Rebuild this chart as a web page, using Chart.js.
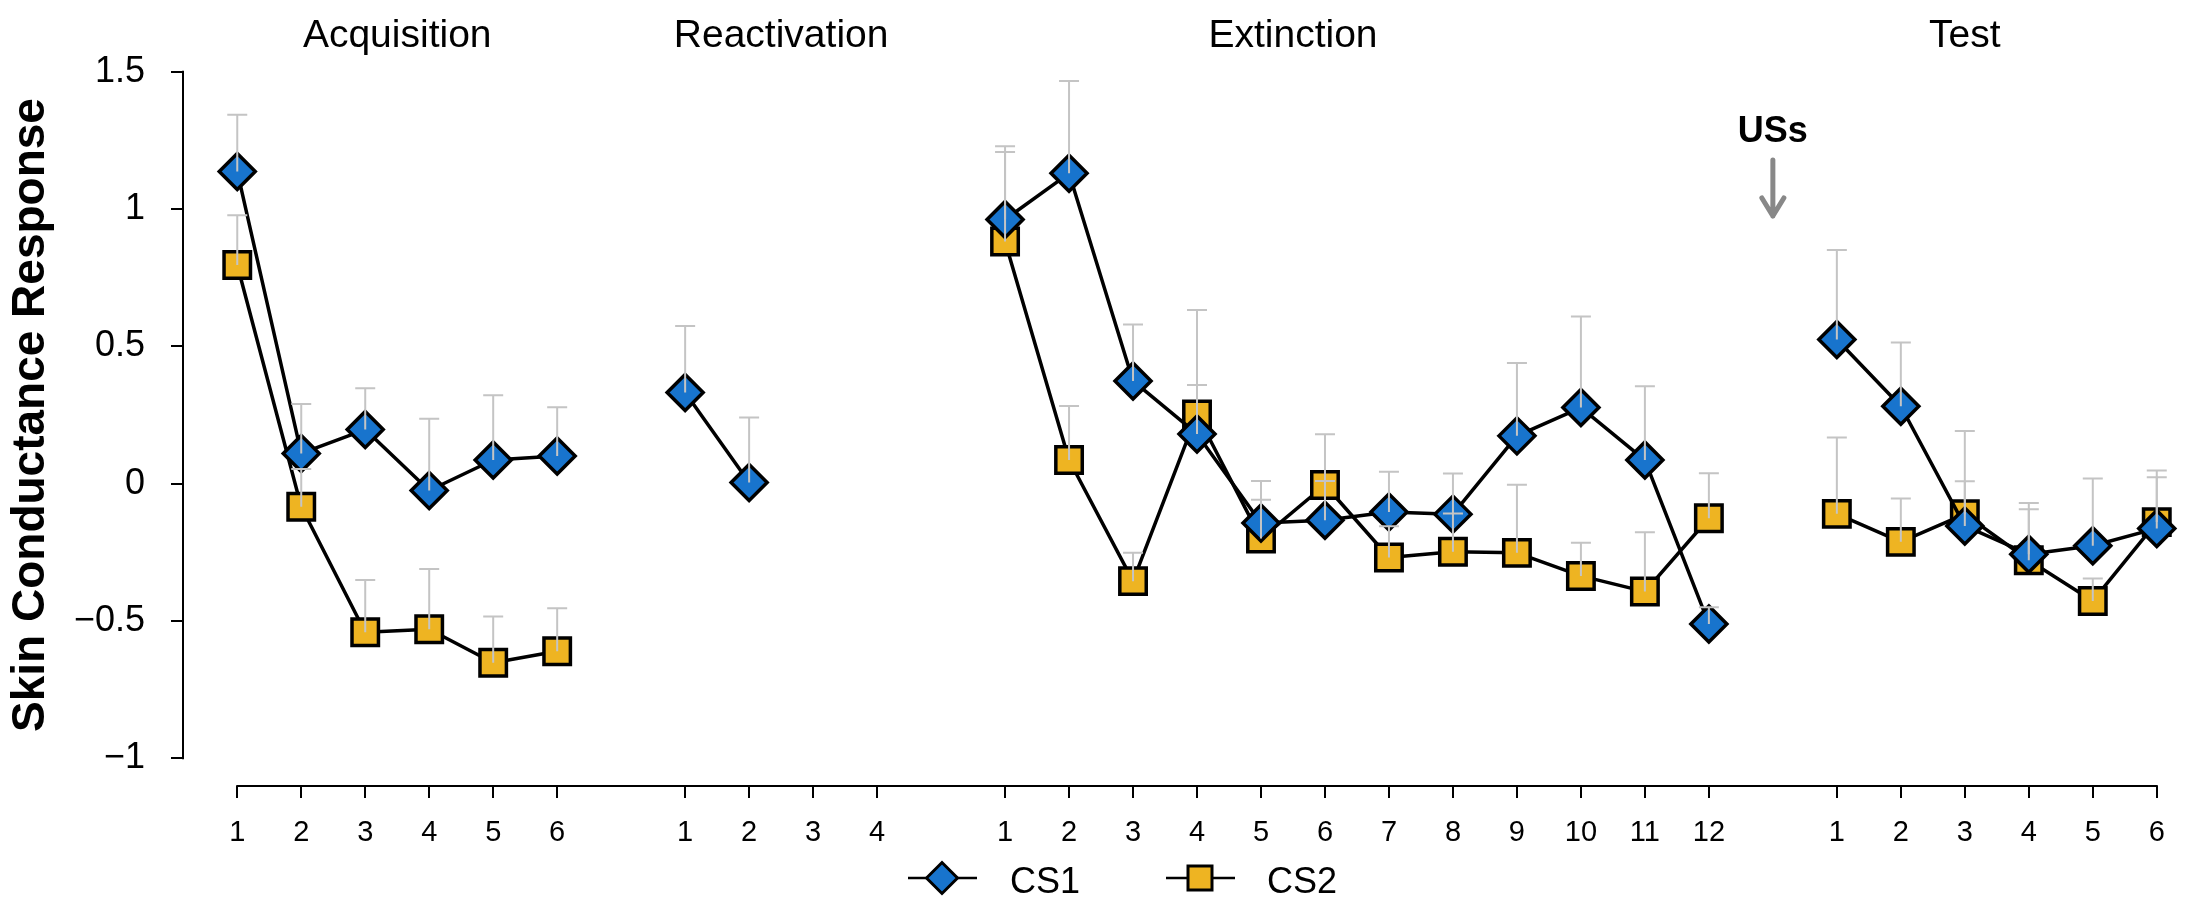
<!DOCTYPE html>
<html>
<head>
<meta charset="utf-8">
<title>Skin Conductance Response</title>
<script src="https://cdn.jsdelivr.net/npm/chart.js@4.4.1/dist/chart.umd.min.js"></script>
<style>
  html, body { margin: 0; padding: 0; background: #fff; }
  #wrap { width: 2202px; height: 904px; }
</style>
</head>
<body>
<div id="wrap"><canvas id="scrChart" width="2202" height="904"></canvas></div>
<script>
// --- data (means and SEM) ---
const phaseNames = ['Acquisition', 'Reactivation', 'Extinction', 'Test'];
const seriesNames = ['CS1', 'CS2'];

const acqTrials = ['1', '2', '3', '4', '5', '6'];
const reacTrials = ['1', '2', '3', '4'];
const extTrials = ['1', '2', '3', '4', '5', '6', '7', '8', '9', '10', '11', '12'];
const testTrials = ['1', '2', '3', '4', '5', '6'];

const acqCS1 = [1.137, 0.110, 0.197, -0.025, 0.086, 0.101];
const acqCS1Sem = [0.206, 0.180, 0.150, 0.261, 0.236, 0.177];
const acqCS2 = [0.796, -0.084, -0.541, -0.530, -0.652, -0.610];
const acqCS2Sem = [0.181, 0.137, 0.190, 0.219, 0.168, 0.156];

const reacCS1 = [0.332, 0.004, null, null];
const reacCS1Sem = [0.242, 0.237, null, null];
const reacCS2 = [null, null, null, null];
const reacCS2Sem = [null, null, null, null];

const extCS1 = [0.962, 1.130, 0.374, 0.181, -0.143, -0.133, -0.103, -0.111, 0.174, 0.277, 0.086, -0.511];
const extCS1Sem = [0.267, 0.336, 0.206, 0.451, 0.153, 0.143, 0.146, 0.148, 0.265, 0.332, 0.269, 0.061];
const extCS2 = [0.882, 0.086, -0.355, 0.252, -0.200, -0.005, -0.269, -0.248, -0.252, -0.336, -0.393, -0.126];
const extCS2Sem = [0.326, 0.197, 0.103, 0.107, 0.141, 0.185, 0.114, 0.139, 0.248, 0.121, 0.216, 0.164];

const testCS1 = [0.525, 0.282, -0.154, -0.257, -0.226, -0.163];
const testCS1Sem = [0.326, 0.232, 0.346, 0.187, 0.245, 0.211];
const testCS2 = [-0.110, -0.212, -0.111, -0.279, -0.427, -0.140];
const testCS2Sem = [0.278, 0.158, 0.120, 0.186, 0.082, 0.163];

const yTickValues = [-1, -0.5, 0, 0.5, 1, 1.5];
const yTickLabels = ['\u22121', '\u22120.5', '0', '0.5', '1', '1.5'];
const yTitle = 'Skin Conductance Response';
const usLabel = 'USs';

// --- build the x layout: phases one after another, one empty slot between ---
const phases = [
  { trials: acqTrials, cs1: acqCS1, cs1Sem: acqCS1Sem, cs2: acqCS2, cs2Sem: acqCS2Sem },
  { trials: reacTrials, cs1: reacCS1, cs1Sem: reacCS1Sem, cs2: reacCS2, cs2Sem: reacCS2Sem },
  { trials: extTrials, cs1: extCS1, cs1Sem: extCS1Sem, cs2: extCS2, cs2Sem: extCS2Sem },
  { trials: testTrials, cs1: testCS1, cs1Sem: testCS1Sem, cs2: testCS2, cs2Sem: testCS2Sem }
];
const titleShift = [0, 0, -1, -0.5];   // phase label offset from the phase centre

const tickPos = [];
const tickText = [];
const cs1Points = [];
const cs2Points = [];
const phaseCentre = [];
let slot = 1;
phases.forEach(function(p, k) {
  if (k > 0) {
    cs1Points.push({ x: slot - 1, y: null });
    cs2Points.push({ x: slot - 1, y: null });
  }
  p.trials.forEach(function(t, i) {
    tickPos.push(slot + i);
    tickText.push(t);
    cs1Points.push({ x: slot + i, y: p.cs1[i], sem: p.cs1Sem[i] });
    cs2Points.push({ x: slot + i, y: p.cs2[i], sem: p.cs2Sem[i] });
  });
  phaseCentre.push(slot + (p.trials.length - 1) / 2 + titleShift[k]);
  slot += p.trials.length + 1;
});
const usSlot = tickPos[tickPos.length - testTrials.length] - 1;

const FONT = '"Liberation Sans", Arial, Helvetica, sans-serif';
const BLUE = '#1874CD';
const GOLD = '#EEB422';

// R-style axis lines that only run between the first and last tick
const axisLines = {
  id: 'axisLines',
  beforeDatasetsDraw(chart) {
    const { ctx, chartArea, scales: { x, y } } = chart;
    ctx.save();
    ctx.strokeStyle = '#000';
    ctx.lineWidth = 2;
    ctx.beginPath();
    ctx.moveTo(chartArea.left, y.getPixelForValue(yTickValues[0]) + 1);
    ctx.lineTo(chartArea.left, y.getPixelForValue(yTickValues[yTickValues.length - 1]) - 1);
    ctx.moveTo(x.getPixelForValue(tickPos[0]) - 1, chartArea.bottom);
    ctx.lineTo(x.getPixelForValue(tickPos[tickPos.length - 1]) + 1, chartArea.bottom);
    ctx.stroke();
    ctx.restore();
  }
};

// upward SEM bars, drawn over the markers
const errorBars = {
  id: 'errorBars',
  afterDatasetsDraw(chart) {
    const { ctx, scales: { x, y } } = chart;
    ctx.save();
    ctx.strokeStyle = '#C4C4C4';
    ctx.lineWidth = 2;
    for (let d = chart.data.datasets.length - 1; d >= 0; d--) {
      chart.data.datasets[d].data.forEach(function(pt) {
        if (pt.y === null || pt.sem == null) return;
        const px = x.getPixelForValue(pt.x);
        const y0 = y.getPixelForValue(pt.y);
        const y1 = y.getPixelForValue(pt.y + pt.sem);
        ctx.beginPath();
        ctx.moveTo(px, y0);
        ctx.lineTo(px, y1);
        ctx.moveTo(px - 10, y1);
        ctx.lineTo(px + 10, y1);
        ctx.stroke();
      });
    }
    ctx.restore();
  }
};

// phase names, the USs arrow and the legend
const annotations = {
  id: 'annotations',
  afterDraw(chart) {
    const { ctx, scales: { x } } = chart;
    ctx.save();
    ctx.fillStyle = '#000';
    ctx.textAlign = 'center';
    ctx.textBaseline = 'alphabetic';
    ctx.font = '39px ' + FONT;
    phaseNames.forEach(function(name, k) {
      ctx.fillText(name, x.getPixelForValue(phaseCentre[k]), 47);
    });

    // USs marker
    const ux = x.getPixelForValue(usSlot);
    ctx.font = 'bold 36px ' + FONT;
    ctx.fillText(usLabel, ux, 142);
    ctx.strokeStyle = '#888';
    ctx.lineWidth = 5;
    ctx.lineCap = 'round';
    ctx.lineJoin = 'round';
    ctx.beginPath();
    ctx.moveTo(ux, 160);
    ctx.lineTo(ux, 216);
    ctx.moveTo(ux - 11, 198);
    ctx.lineTo(ux, 216);
    ctx.lineTo(ux + 11, 198);
    ctx.stroke();

    // legend
    const ly = 878;
    const items = [
      { cx: 942, text: 1010, shape: 'diamond', fill: BLUE },
      { cx: 1200, text: 1267, shape: 'square', fill: GOLD }
    ];
    items.forEach(function(it, k) {
      ctx.strokeStyle = '#000';
      ctx.lineCap = 'butt';
      ctx.lineJoin = 'miter';
      ctx.lineWidth = 2.5;
      ctx.beginPath();
      ctx.moveTo(it.cx - 34, ly);
      ctx.lineTo(it.cx + 35, ly);
      ctx.stroke();
      ctx.beginPath();
      if (it.shape === 'diamond') {
        const r = 15.5;
        ctx.moveTo(it.cx - r, ly);
        ctx.lineTo(it.cx, ly - r);
        ctx.lineTo(it.cx + r, ly);
        ctx.lineTo(it.cx, ly + r);
        ctx.closePath();
      } else {
        ctx.rect(it.cx - 12, ly - 12, 24, 24);
      }
      ctx.fillStyle = it.fill;
      ctx.fill();
      ctx.lineWidth = 3;
      ctx.stroke();
      ctx.fillStyle = '#000';
      ctx.textAlign = 'left';
      ctx.font = '36px ' + FONT;
      ctx.fillText(seriesNames[k], it.text, ly + 15);
    });
    ctx.restore();
  }
};

const ctx = document.getElementById('scrChart').getContext('2d');
new Chart(ctx, {
  type: 'line',
  data: {
    datasets: [
      {
        label: seriesNames[0],
        data: cs1Points,
        borderColor: '#000',
        borderWidth: 3.5,
        borderJoinStyle: 'round',
        borderCapStyle: 'round',
        pointStyle: 'rectRot',
        pointRadius: 18,
        pointBackgroundColor: BLUE,
        pointBorderColor: '#000',
        pointBorderWidth: 3.5,
        spanGaps: false,
        tension: 0,
        clip: false
      },
      {
        label: seriesNames[1],
        data: cs2Points,
        borderColor: '#000',
        borderWidth: 3.5,
        borderJoinStyle: 'round',
        borderCapStyle: 'round',
        pointStyle: 'rect',
        pointRadius: 18.7,
        pointBackgroundColor: GOLD,
        pointBorderColor: '#000',
        pointBorderWidth: 3.5,
        spanGaps: false,
        tension: 0,
        clip: false
      }
    ]
  },
  options: {
    responsive: false,
    animation: false,
    devicePixelRatio: 1,
    events: [],
    layout: { padding: { left: 0, top: 44, right: 6, bottom: 0 } },
    plugins: {
      legend: { display: false },
      tooltip: { enabled: false }
    },
    scales: {
      x: {
        type: 'linear',
        min: 0.152,
        max: 31.36,
        border: { display: false },
        grid: { drawOnChartArea: false, drawTicks: true, tickLength: 12, color: '#000', lineWidth: 2 },
        ticks: {
          autoSkip: false,
          maxRotation: 0,
          minRotation: 0,
          padding: 18,
          color: '#000',
          font: { family: FONT, size: 29 },
          callback: function(v, i) { return tickText[i]; }
        },
        afterBuildTicks: function(s) { s.ticks = tickPos.map(function(v) { return { value: v }; }); },
        afterFit: function(s) { s.height = 118; s.paddingLeft = 0; s.paddingRight = 0; }
      },
      y: {
        type: 'linear',
        min: -1.101,
        max: 1.601,
        border: { display: false },
        grid: { drawOnChartArea: false, drawTicks: true, tickLength: 12, color: '#000', lineWidth: 2 },
        title: {
          display: true,
          text: yTitle,
          color: '#000',
          font: { family: FONT, size: 46, weight: 'bold' },
          padding: { top: 4, bottom: 0 }
        },
        ticks: {
          padding: 26,
          color: '#000',
          font: { family: FONT, size: 36 },
          callback: function(v, i) { return yTickLabels[i]; }
        },
        afterBuildTicks: function(s) { s.ticks = yTickValues.map(function(v) { return { value: v }; }); },
        afterFit: function(s) { s.width = 183; s.paddingTop = 0; s.paddingBottom = 0; }
      }
    }
  },
  plugins: [axisLines, errorBars, annotations]
});
</script>
</body>
</html>
